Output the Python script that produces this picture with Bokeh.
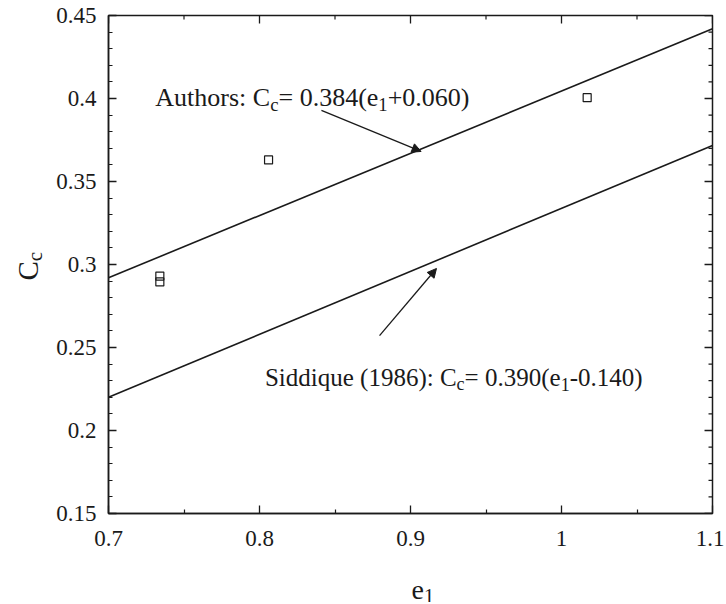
import math
from bokeh.plotting import figure
from bokeh.layouts import row, column
from bokeh.models import LinearAxis, Label, Arrow, NormalHead, FixedTicker
from bokeh.embed import file_html
from bokeh.resources import INLINE

# ---------------- data ----------------
e1_line = [0.7, 1.1]
cc_authors = [0.292, 0.442]      # Authors: Cc = 0.384(e1+0.060)
cc_siddique = [0.220, 0.3717]    # Siddique (1986): Cc = 0.390(e1-0.140)

e1_points = [0.734, 0.734, 0.806, 1.017]
cc_points = [0.293, 0.2895, 0.363, 0.4005]

x_ticks = [0.7, 0.8, 0.9, 1.0, 1.1]
x_tick_labels = ["0.7", "0.8", "0.9", "1", "1.1"]
x_minor = [0.75, 0.85, 0.95, 1.05]
y_ticks = [0.15, 0.2, 0.25, 0.3, 0.35, 0.4, 0.45]
y_tick_labels = ["0.15", "0.2", "0.25", "0.3", "0.35", "0.4", "0.45"]
y_minor = [round(0.15 + 0.01 * i, 2) for i in range(31)]

X0, X1 = 0.7, 1.1
Y0, Y1 = 0.15, 0.45

FONT = "Liberation Serif"
INK = "#1a1a1a"

# ---------------- layout geometry (px) ----------------
TOTAL_W, TOTAL_H = 724, 602
LW = 53                      # left strip for the y-axis title
MW = TOTAL_W - LW            # main figure width
MH = 558                     # main figure height
BH = TOTAL_H - MH            # bottom strip for the x-axis title
F_L, F_R, F_T, F_B = 53, 659, 15, 513   # frame inside the main figure

p = figure(width=MW, height=MH, x_range=(X0, X1), y_range=(Y0, Y1),
           output_backend="svg", toolbar_location=None,
           min_border_left=F_L, min_border_right=MW - F_R,
           min_border_top=F_T, min_border_bottom=MH - F_B,
           x_axis_location=None, y_axis_location=None)
p.grid.visible = False
p.outline_line_color = INK
p.outline_line_width = 1.5
p.background_fill_color = "white"
p.border_fill_color = "white"


def style_axis(ax, standoff):
    ax.axis_line_color = INK
    ax.axis_line_width = 1.5
    ax.major_tick_in = 8
    ax.major_tick_out = 0
    ax.minor_tick_in = 4
    ax.minor_tick_out = 0
    ax.major_tick_line_color = INK
    ax.minor_tick_line_color = INK
    ax.major_tick_line_width = 1.3
    ax.minor_tick_line_width = 1.2
    ax.major_label_text_font = FONT
    ax.major_label_text_color = INK
    ax.major_label_text_font_size = "23px"
    ax.major_label_standoff = standoff


xb = LinearAxis(ticker=FixedTicker(ticks=x_ticks, minor_ticks=x_minor),
                major_label_overrides=dict(zip(x_ticks, x_tick_labels)))
style_axis(xb, 17)
p.add_layout(xb, "below")
yl = LinearAxis(ticker=FixedTicker(ticks=y_ticks, minor_ticks=y_minor),
                major_label_overrides=dict(zip(y_ticks, y_tick_labels)))
style_axis(yl, 12)
p.add_layout(yl, "left")

# mirrored inward ticks on the top and right edges of the box
dx_px = (X1 - X0) / (F_R - F_L)
dy_px = (Y1 - Y0) / (F_B - F_T)
p.segment(x0=x_ticks, y0=[Y1] * len(x_ticks), x1=x_ticks, y1=[Y1 - 8 * dy_px] * len(x_ticks),
          line_color=INK, line_width=1.3)
p.segment(x0=x_minor, y0=[Y1] * len(x_minor), x1=x_minor, y1=[Y1 - 4 * dy_px] * len(x_minor),
          line_color=INK, line_width=1.2)
p.segment(x0=[X1] * len(y_ticks), y0=y_ticks, x1=[X1 - 8 * dx_px] * len(y_ticks), y1=y_ticks,
          line_color=INK, line_width=1.3)
p.segment(x0=[X1] * len(y_minor), y0=y_minor, x1=[X1 - 4 * dx_px] * len(y_minor), y1=y_minor,
          line_color=INK, line_width=1.2)

# ---------------- marks ----------------
p.line(e1_line, cc_authors, line_color=INK, line_width=1.6)
p.line(e1_line, cc_siddique, line_color=INK, line_width=1.6)
p.scatter(e1_points, cc_points, marker="square", size=8,
          fill_color=None, line_color=INK, line_width=1.2)

# arrows (annotation positions)
arrow1 = dict(x_start=0.841, y_start=0.3928, x_end=0.907, y_end=0.3681)
arrow2 = dict(x_start=0.8795, y_start=0.2572, x_end=0.9172, y_end=0.2976)
for a in (arrow1, arrow2):
    p.add_layout(Arrow(end=NormalHead(size=9, fill_color=INK, line_color=INK, line_width=1),
                       line_color=INK, line_width=1.3, **a))

# ---------------- rich text (with subscripts) ----------------
TW = {' ': 250, '(': 333, ')': 333, '+': 564, '-': 333, '.': 250, ':': 278, '=': 564,
      'A': 722, 'C': 667, 'S': 556, 'a': 444, 'c': 444, 'd': 500, 'e': 444, 'h': 500,
      'i': 278, 'o': 500, 'q': 500, 'r': 333, 's': 389, 't': 278, 'u': 500}


def tw(s, fs):
    return sum(TW.get(ch, 500) for ch in s) / 1000.0 * fs


def rich(fig, parts, x, y, size, angle=0.0, sub_scale=0.72, drop=0.27):
    adv = 0.0
    for text, sub in parts:
        fs = size * sub_scale if sub else size
        d = size * drop if sub else 0.0
        if angle == 0.0:
            xo, yo = adv, -d
        else:
            xo, yo = d, adv
        fig.add_layout(Label(x=x, y=y, x_offset=xo, y_offset=yo, text=text,
                             text_font=FONT, text_font_size=f"{fs:.1f}px", text_color=INK,
                             angle=angle, text_align="left", text_baseline="alphabetic"))
        adv += tw(text, fs)


rich(p, [("Authors: C", False), ("c", True), ("= 0.384(e", False), ("1", True), ("+0.060)", False)],
     0.7310, 0.4006, 26)
rich(p, [("Siddique (1986): C", False), ("c", True), ("= 0.390(e", False), ("1", True), ("-0.140)", False)],
     0.8036, 0.2320, 25)


def strip(w, h, xr):
    f = figure(width=w, height=h, x_range=xr, y_range=(0, h),
               output_backend="svg", toolbar_location=None,
               min_border=0, min_border_left=0, min_border_right=0,
               min_border_top=0, min_border_bottom=0,
               x_axis_location=None, y_axis_location=None)
    f.grid.visible = False
    f.outline_line_color = None
    f.background_fill_color = "white"
    f.border_fill_color = "white"
    return f


# y-axis title  (Cc, vertical, reading bottom to top); strip spans page x 0..LW
left = strip(LW, TOTAL_H, (0, LW))
rich(left, [("C", False), ("c", True)], 27, TOTAL_H - 280, 29, angle=math.pi / 2)

# x-axis title  (e1); this strip's frame is aligned with the main frame (page x 106..712)
bottom = strip(MW, BH, (LW + F_L, LW + F_R))
rich(bottom, [("e", False), ("1", True)], 410, TOTAL_H - 589, 28, drop=0.22)

layout = row(left, column(p, bottom))
open("out.html", "w").write(file_html(layout, INLINE))
